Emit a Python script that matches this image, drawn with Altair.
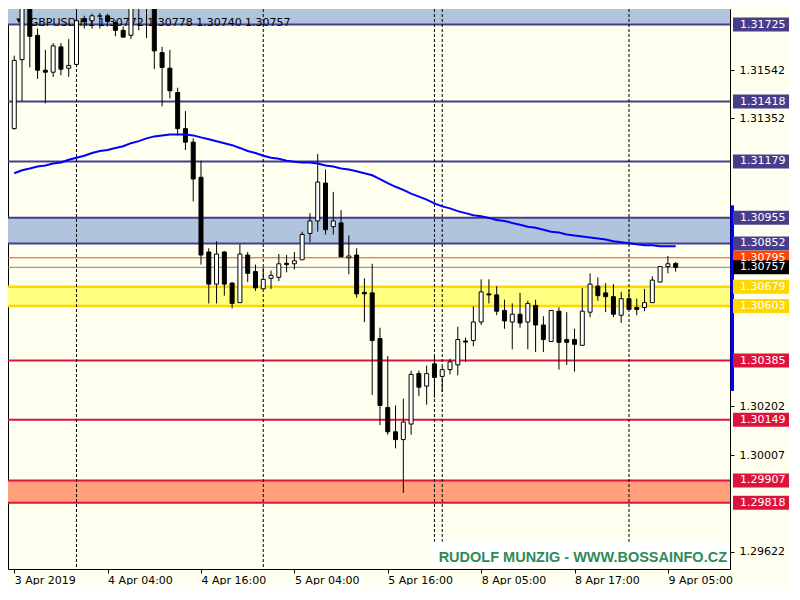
import altair as alt
import pandas as pd

# ---------------- data (GBPUSD H1) ----------------
opens = [1.31310, 1.31585, 1.31818, 1.31682, 1.31543, 1.31535, 1.31636, 1.31551, 1.31566, 1.31748,
         1.31740, 1.31758, 1.31760, 1.31733, 1.31702, 1.31682, 1.31803, 1.31791, 1.31810, 1.31613,
         1.31551, 1.31454, 1.31310, 1.31256, 1.31116, 1.30818, 1.30690, 1.30818, 1.30694, 1.30616,
         1.30806, 1.30740, 1.30671, 1.30713, 1.30717, 1.30773, 1.30771, 1.30787, 1.30892, 1.30942,
         1.31093, 1.30919, 1.30934, 1.30795, 1.30806, 1.30657, 1.30655, 1.30473, 1.30198, 1.30101,
         1.30070, 1.30132, 1.30333, 1.30283, 1.30372, 1.30322, 1.30349, 1.30368, 1.30463, 1.30465,
         1.30539, 1.30651, 1.30647, 1.30585, 1.30539, 1.30570, 1.30539, 1.30605, 1.30527, 1.30461,
         1.30582, 1.30469, 1.30469, 1.30446, 1.30578, 1.30682, 1.30655, 1.30640, 1.30566, 1.30632,
         1.30597, 1.30597, 1.30616, 1.30698, 1.30760, 1.30772]
highs = [1.31601, 1.31865, 1.31845, 1.31709, 1.31624, 1.31651, 1.31651, 1.31667, 1.31779, 1.31760,
         1.31768, 1.31771, 1.31768, 1.31740, 1.31717, 1.31826, 1.31834, 1.31841, 1.31826, 1.31636,
         1.31624, 1.31473, 1.31380, 1.31271, 1.31182, 1.30833, 1.30861, 1.30822, 1.30698, 1.30849,
         1.30818, 1.30768, 1.30756, 1.30744, 1.30810, 1.30806, 1.30818, 1.30899, 1.30973, 1.31209,
         1.31147, 1.31058, 1.30985, 1.30884, 1.30833, 1.30713, 1.30771, 1.30516, 1.30403, 1.30206,
         1.30233, 1.30345, 1.30345, 1.30365, 1.30403, 1.30361, 1.30392, 1.30520, 1.30477, 1.30601,
         1.30709, 1.30709, 1.30682, 1.30628, 1.30613, 1.30655, 1.30624, 1.30628, 1.30562, 1.30585,
         1.30597, 1.30578, 1.30512, 1.30675, 1.30733, 1.30717, 1.30694, 1.30690, 1.30659, 1.30667,
         1.30632, 1.30671, 1.30721, 1.30760, 1.30802, 1.30778]
lows = [1.31306, 1.31419, 1.31554, 1.31508, 1.31411, 1.31516, 1.31523, 1.31516, 1.31562, 1.31709,
        1.31709, 1.31709, 1.31717, 1.31678, 1.31672, 1.31667, 1.31702, 1.31671, 1.31547, 1.31399,
        1.31430, 1.31283, 1.31225, 1.31020, 1.30768, 1.30613, 1.30613, 1.30644, 1.30593, 1.30616,
        1.30698, 1.30663, 1.30671, 1.30671, 1.30702, 1.30737, 1.30748, 1.30787, 1.30857, 1.30899,
        1.30888, 1.30888, 1.30799, 1.30729, 1.30636, 1.30539, 1.30248, 1.30128, 1.30089, 1.30035,
        1.29857, 1.30089, 1.30244, 1.30209, 1.30237, 1.30260, 1.30330, 1.30326, 1.30380, 1.30442,
        1.30527, 1.30613, 1.30566, 1.30512, 1.30430, 1.30516, 1.30430, 1.30419, 1.30419, 1.30461,
        1.30349, 1.30368, 1.30341, 1.30446, 1.30558, 1.30624, 1.30578, 1.30558, 1.30535, 1.30589,
        1.30566, 1.30582, 1.30616, 1.30698, 1.30733, 1.30740]
closes = [1.31582, 1.31818, 1.31678, 1.31543, 1.31535, 1.31640, 1.31547, 1.31562, 1.31740, 1.31740,
          1.31760, 1.31760, 1.31737, 1.31702, 1.31675, 1.31795, 1.31791, 1.31810, 1.31620, 1.31554,
          1.31461, 1.31310, 1.31256, 1.31109, 1.30806, 1.30690, 1.30810, 1.30690, 1.30613, 1.30810,
          1.30733, 1.30675, 1.30709, 1.30725, 1.30771, 1.30768, 1.30783, 1.30888, 1.30942, 1.31097,
          1.30907, 1.30942, 1.30799, 1.30802, 1.30651, 1.30651, 1.30465, 1.30206, 1.30101, 1.30070,
          1.30140, 1.30330, 1.30279, 1.30333, 1.30318, 1.30349, 1.30380, 1.30469, 1.30459, 1.30539,
          1.30659, 1.30647, 1.30582, 1.30543, 1.30570, 1.30535, 1.30613, 1.30527, 1.30469, 1.30585,
          1.30458, 1.30458, 1.30450, 1.30582, 1.30690, 1.30644, 1.30640, 1.30570, 1.30632, 1.30589,
          1.30589, 1.30616, 1.30706, 1.30760, 1.30771, 1.30757]
ma_values = [1.31132, 1.31144, 1.31151, 1.31159, 1.31163, 1.31171, 1.31175, 1.31186, 1.31194, 1.31202,
             1.31213, 1.31221, 1.31225, 1.31233, 1.31240, 1.31252, 1.31260, 1.31271, 1.31279, 1.31283,
             1.31287, 1.31287, 1.31287, 1.31283, 1.31275, 1.31268, 1.31260, 1.31252, 1.31244, 1.31233,
             1.31221, 1.31213, 1.31202, 1.31194, 1.31190, 1.31182, 1.31178, 1.31175, 1.31175, 1.31171,
             1.31163, 1.31159, 1.31151, 1.31147, 1.31140, 1.31132, 1.31124, 1.31109, 1.31093, 1.31078,
             1.31066, 1.31051, 1.31039, 1.31027, 1.31012, 1.31000, 1.30992, 1.30981, 1.30973, 1.30965,
             1.30961, 1.30954, 1.30946, 1.30942, 1.30934, 1.30927, 1.30919, 1.30915, 1.30907, 1.30899,
             1.30896, 1.30888, 1.30884, 1.30880, 1.30876, 1.30872, 1.30868, 1.30861, 1.30857, 1.30853,
             1.30849, 1.30845, 1.30845, 1.30841, 1.30841, 1.30841]
bar_index = list(range(len(opens)))

x_tick_index = [0, 12, 24, 36, 48, 60, 72, 84]
x_tick_labels = ["3 Apr 2019", "4 Apr 04:00", "4 Apr 16:00", "5 Apr 04:00",
                 "5 Apr 16:00", "8 Apr 05:00", "8 Apr 17:00", "9 Apr 05:00"]
separator_index = [8, 32, 54, 55, 79]
# price-scale ticks that are not covered by level labels
price_ticks = [1.31542, 1.31352, 1.30202, 1.30007, 1.29622]

zone_low = [1.31725, 1.30852, 1.30603, 1.29818]
zone_high = [1.31950, 1.30955, 1.30679, 1.29907]
zone_colors = ["#B0C4DE", "#B0C4DE", "#FFFF80", "#FFA07A"]

level_prices = [1.31725, 1.31418, 1.31179, 1.30955, 1.30852, 1.30795, 1.30757,
                1.30679, 1.30603, 1.30385, 1.30149, 1.29907, 1.29818]
level_colors = ["#483D8B", "#483D8B", "#483D8B", "#483D8B", "#483D8B", "#FF4500", "#808080",
                "#FFD700", "#FFD700", "#DC143C", "#DC143C", "#DC143C", "#DC143C"]
level_widths = [2, 2, 2, 2, 2, 1, 1, 2.5, 2.5, 2, 2, 2, 2]
box_colors = ["#483D8B", "#483D8B", "#483D8B", "#483D8B", "#483D8B", "#FF4500", "#000000",
              "#FFD700", "#FFD700", "#DC143C", "#DC143C", "#DC143C", "#DC143C"]

scale_bar = [1.31004, 1.30264]
title_text = "GBPUSD,H1 1.30772 1.30778 1.30740 1.30757"
watermark_text = "RUDOLF MUNZIG - WWW.BOSSAINFO.CZ"

# ---------------- layout ----------------
W, H = 722, 560
RX, RY = W / 732, H / 576
FONT = "DejaVu Sans"

xscale = alt.Scale(domain=[-0.16, 91.34], nice=False, zero=False)
yscale = alt.Scale(domain=[1.29554, 1.31787], nice=False, zero=False)

lab_arr = "[" + ",".join("'%s'" % s for s in x_tick_labels) + "]"
idx_arr = "[" + ",".join(str(v) for v in x_tick_index) + "]"
xaxis = alt.Axis(values=x_tick_index, labelExpr=f"{lab_arr}[indexof({idx_arr}, datum.value)]",
                 title=None, grid=False, domain=False, ticks=True, tickSize=4, tickColor="black",
                 labelAlign="left", labelBaseline="top", labelPadding=1, labelFont=FONT,
                 labelFontSize=11, labelColor="black", labelFlush=False, labelOverlap=False, zindex=0)
yaxis = alt.Axis(orient="right", values=price_ticks, format=".5f", title=None, grid=False,
                 domain=False, tickSize=4, tickColor="black", labelPadding=5, labelFont=FONT,
                 labelFontSize=11, labelColor="black", labelFlush=False, labelOverlap=False, zindex=0)


def X(f):
    return alt.X(f"{f}:Q", scale=xscale, axis=xaxis)


def Y(f):
    return alt.Y(f"{f}:Q", scale=yscale, axis=yaxis)


candles = pd.DataFrame({"i": bar_index, "open": opens, "high": highs, "low": lows,
                        "close": closes, "ma": ma_values})
candles["fill"] = ["#FFFFFF" if c >= o else "#000000" for o, c in zip(opens, closes)]

zones = pd.DataFrame({"lo": zone_low, "hi": zone_high, "fill": zone_colors})
levels = pd.DataFrame({"price": level_prices, "color": level_colors, "w": level_widths,
                       "box": box_colors})
seps = pd.DataFrame({"sep": separator_index})
one = pd.DataFrame({"t": [title_text], "wm": [watermark_text],
                    "top": [scale_bar[0]], "bottom": [scale_bar[1]]})

zone_layer = alt.Chart(zones).mark_rect(clip=True).encode(
    x=alt.value(0), x2=alt.value(W), y=Y("lo"), y2="hi",
    fill=alt.Fill("fill:N", scale=None))

level_layer = alt.Chart(levels).mark_rule(clip=True).encode(
    y=Y("price"), color=alt.Color("color:N", scale=None),
    strokeWidth=alt.StrokeWidth("w:Q", scale=None))

sep_layer = alt.Chart(seps).mark_rule(color="black", strokeWidth=1, strokeDash=[3, 2]).encode(
    x=X("sep"))

title_layer = alt.Chart(one).mark_text(align="left", baseline="alphabetic", font=FONT,
                                       fontSize=11, color="black").encode(
    x=alt.value(22 * RX), y=alt.value(17 * RY), text="t:N")
tri_layer = alt.Chart(one).mark_point(shape="triangle-down", filled=True, color="black",
                                      size=28, opacity=1).encode(
    x=alt.value(11 * RX), y=alt.value(12 * RY))

wick_layer = alt.Chart(candles).mark_rule(color="black", strokeWidth=1, clip=True).encode(
    x=X("i"), y=Y("low"), y2="high")
body_layer = alt.Chart(candles).mark_bar(width=4, stroke="black", strokeWidth=1, clip=True).encode(
    x=X("i"), y=Y("open"), y2="close", fill=alt.Fill("fill:N", scale=None))

ma_layer = alt.Chart(candles).mark_line(color="#0000FF", strokeWidth=2, clip=True).encode(
    x=X("i"), y=Y("ma"))

wm_box = alt.Chart(one).mark_rect(color="white").encode(
    x=alt.value(430 * RX), x2=alt.value(W - 0.5), y=alt.value(548 * RY), y2=alt.value(H - 0.5))
wm_text = alt.Chart(one).mark_text(align="right", baseline="alphabetic", font="Liberation Sans",
                                   fontWeight="bold", fontSize=14.5, color="#2E8B57").encode(
    x=alt.value(W - 3), y=alt.value(569 * RY), text="wm:N")

bar_layer = alt.Chart(one).mark_rect(color="#0000FF").encode(
    x=alt.value(W + 0.5), x2=alt.value(W + 4), y=Y("top"), y2="bottom")

box_layer = alt.Chart(levels).mark_point(
    shape="M-1,-0.25L1,-0.25L1,0.25L-1,0.25Z", filled=True, opacity=1, strokeWidth=0,
    size=56 * 56).encode(
    x=alt.value(W + 31), y=Y("price"), color=alt.Color("box:N", scale=None))
box_text = alt.Chart(levels).mark_text(align="left", baseline="middle", font=FONT, fontSize=11,
                                       color="white").encode(
    x=alt.value(W + 10), y=Y("price"), text=alt.Text("price:Q", format=".5f"))

chart = alt.layer(
    zone_layer, level_layer, sep_layer, title_layer, tri_layer,
    wick_layer, body_layer, ma_layer, wm_box, wm_text, bar_layer, box_layer, box_text
).properties(
    width=W, height=H, background="#FFFFF0", padding=0
).configure_view(stroke="black", strokeWidth=1)

chart.save("out.html", embed_options={"renderer": "svg", "actions": False})
